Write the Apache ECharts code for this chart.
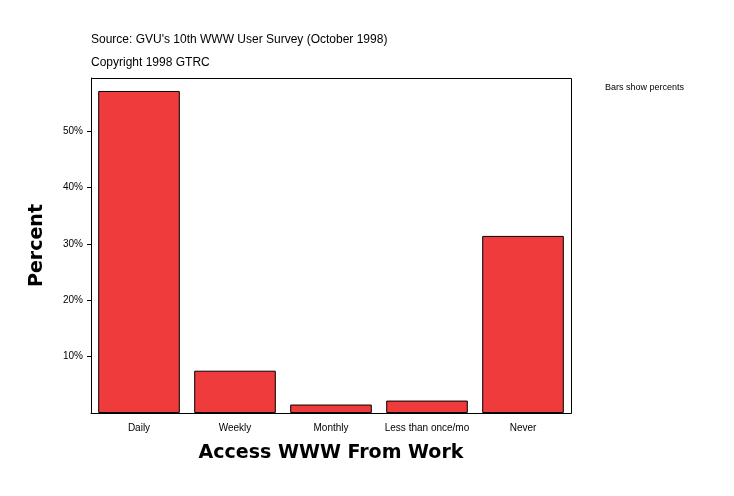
<!DOCTYPE html><html><head><meta charset="utf-8">
<script src="https://cdn.jsdelivr.net/npm/echarts@6/dist/echarts.min.js"></script>
<style>body{margin:0;background:#fff}#c{width:734px;height:496px}</style></head><body><div id="c"></div><script>
const categories=["Daily","Weekly","Monthly","Less than once/mo","Never"];
const values=[57.1,7.5,1.5,2.2,31.4];
const yTicks=[10,20,30,40,50];
const ch=echarts.init(document.getElementById('c'));
ch.setOption({
 animation:false,backgroundColor:'#fff',
 graphic:[
  {type:'text',left:91,top:34,style:{text:"Source: GVU's 10th WWW User Survey (October 1998)",font:'12px Arial',fill:'#000'}},
  {type:'text',left:91,top:57,style:{text:"Copyright 1998 GTRC",font:'12px Arial',fill:'#000'}},
  {type:'text',left:605,top:83,style:{text:"Bars show percents",font:'9px Arial',fill:'#000'}},
  {type:'rect',shape:{x:91.5,y:78.5,width:480,height:335},style:{fill:'none',stroke:'#000',lineWidth:1},silent:true,z:10}
 ],
 grid:{left:91,top:78,width:480,height:335},
 xAxis:{type:'category',data:categories,axisTick:{show:false},
  axisLine:{lineStyle:{color:'#000'}},axisLabel:{color:'#000',fontSize:10,fontFamily:'Arial',margin:10,interval:0},
  name:'Access WWW From Work',nameLocation:'middle',nameGap:31,
  nameTextStyle:{fontSize:19,fontWeight:'bold',fontFamily:'DejaVu Sans',color:'#000'}},
 yAxis:{type:'value',min:0,max:59.4,interval:10,splitLine:{show:false},
  axisLine:{show:true,lineStyle:{color:'#000'}},axisTick:{show:true,length:4,lineStyle:{color:'#000'}},
  axisLabel:{color:'#000',fontSize:10,fontFamily:'Arial',showMinLabel:false,showMaxLabel:false,
   formatter:v=>yTicks.includes(v)?v+'%':''},
  name:'Percent',nameLocation:'middle',nameGap:44,nameRotate:90,
  nameTextStyle:{fontSize:19,fontWeight:'bold',fontFamily:'DejaVu Sans',color:'#000'}},
 series:[{type:'bar',data:values,barCategoryGap:'15%',
  itemStyle:{color:'#ef3b3c',borderColor:'#000',borderWidth:1}}]
});
</script></body></html>
